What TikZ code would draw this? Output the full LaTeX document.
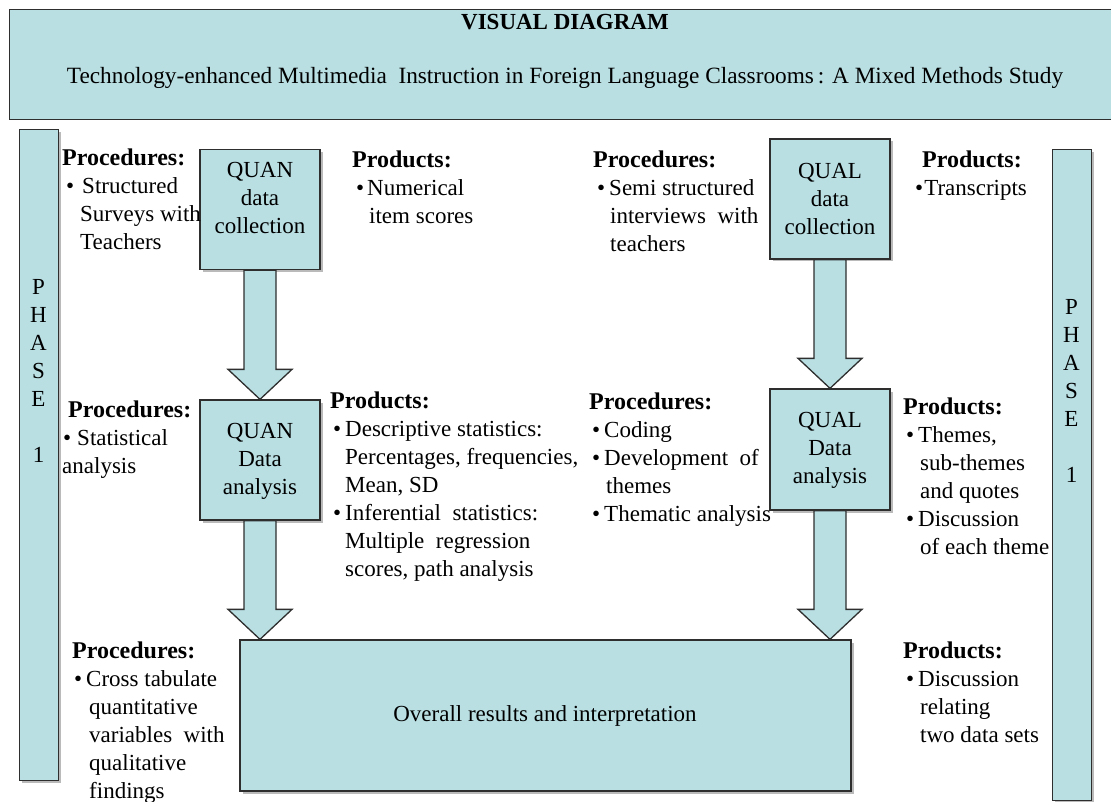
\documentclass[tikz,border=0pt]{standalone}
\usepackage{fontspec}
\setmainfont{Liberation Serif}
\usetikzlibrary{shadows,calc}
\definecolor{tealfill}{HTML}{B9DFE3}
\definecolor{edgecol}{HTML}{2E2E2E}
\newcommand\bu[2]{\hspace*{#1pt}\textbullet\hspace*{#2pt}}
\newcommand\ind{\hspace*{17pt}}
\newcommand\hd[1]{\strut{\bfseries\fontsize{24}{28}\selectfont #1}}
\begin{document}
\begin{tikzpicture}[x=1pt,y=-1pt,
  box/.style={draw=edgecol, line width=1.3pt, fill=tealfill, inner sep=0pt,
    drop shadow={shadow xshift=2.5pt, shadow yshift=-2.5pt, fill=black!45, opacity=0.6}},
  arr/.style={draw=edgecol, line width=1.3pt, fill=tealfill},
  txt/.style={anchor=north west, align=left, inner sep=0pt, font=\fontsize{23}{28}\selectfont},
  ctxt/.style={align=center, inner sep=0pt, font=\fontsize{23}{28}\selectfont}]
\useasboundingbox (0,0) rectangle (1111,802);

% title
\node[draw=edgecol, line width=1.3pt, fill=tealfill, anchor=north west,
  minimum width=1120pt, minimum height=110pt, inner sep=0pt] (title) at (9,9) {};
\node[inner sep=0pt, font=\bfseries\fontsize{23}{28}\selectfont] (tmain) at (565,22) {VISUAL DIAGRAM};
\node[ctxt, font=\fontsize{23.3}{28}\selectfont] (tsub) at (565,78) {Technology-enhanced Multimedia\ \ Instruction in Foreign Language Classrooms\,: A Mixed Methods Study};

% phase bars
\node[box, anchor=north west, minimum width=39pt, minimum height=651pt] (ph1) at (19,129) {};
\node[ctxt] (ph1t) at (38.5,370.5) {P\\H\\A\\S\\E\\[28pt]1};
\node[box, anchor=north west, minimum width=39pt, minimum height=651pt] (ph2) at (1052,149) {};
\node[ctxt] (ph2t) at (1071.5,390.5) {P\\H\\A\\S\\E\\[28pt]1};

% process boxes
\node[box, minimum width=120pt, minimum height=120pt] (qc) at (260,209.5) {};
\node[ctxt] (qct) at (260,198) {QUAN\\data\\collection};
\node[box, minimum width=120pt, minimum height=120pt] (qa) at (260,460) {};
\node[ctxt] (qat) at (260,461) {QUAN\\Data\\analysis};
\node[box, minimum width=120pt, minimum height=120pt] (lc) at (830,199) {};
\node[ctxt] (lct) at (830,198.5) {QUAL\\data\\collection};
\node[box, minimum width=120pt, minimum height=121pt] (la) at (830,449.5) {};
\node[ctxt] (lat) at (830,450) {QUAL\\Data\\analysis};
\node[box, minimum width=611pt, minimum height=151pt] (big) at (545.5,715.5) {};
\node[ctxt] (bigt) at (545,716) {Overall results and interpretation};

% block arrows
\foreach \a/\b in {qc/qa, qa/big, lc/la, la/big}{
  \path[arr] let \p1=(\a.south), \p2=(\a.center), \p3=(\b.north) in
    (\x2-16pt,\y1) -- (\x2+16pt,\y1) -- (\x2+16pt,\y3+30pt) -- (\x2+32pt,\y3+30pt)
    -- (\x2,\y3) -- (\x2-32pt,\y3+30pt) -- (\x2-16pt,\y3+30pt) -- cycle;
}

% text blocks
\node[txt] (b1) at (62,145.5) {\hd{Procedures:}\\\bu{4}{8}Structured\\\hspace*{18pt}Surveys with\\\hspace*{18pt}Teachers};
\node[txt] (b2) at (352,147.4) {\hd{Products:}\\\bu{4}{3}Numerical\\\ind item scores};
\node[txt] (b3) at (593,147.4) {\hd{Procedures:}\\\bu{4}{4}Semi structured\\\ind interviews\ \ with\\\ind teachers};
\node[txt] (b4) at (922,147.4) {\hd{Products:}\\\bu{-7}{1}Transcripts};
\node[txt] (b5) at (68,397.4) {\hd{Procedures:}\\\bu{-5}{6}Statistical\\\hspace*{-6pt}analysis};
\node[txt] (b6) at (330,388.4) {\hd{Products:}\\\bu{3}{4}Descriptive statistics:\\\hspace*{15pt}Percentages, frequencies,\\\hspace*{15pt}Mean, SD\\\bu{3}{4}Inferential\ \ statistics:\\\hspace*{15pt}Multiple\ \ regression\\\hspace*{15pt}scores, path analysis};
\node[txt] (b7) at (589,389.4) {\hd{Procedures:}\\\bu{3}{4}Coding\\\bu{3}{4}Development\ \ of\\\ind themes\\\bu{3}{4}Thematic analysis};
\node[txt] (b8) at (903,394.4) {\hd{Products:}\\\bu{3}{4}Themes,\\\ind sub-themes\\\ind and quotes\\\bu{3}{4}Discussion\\\ind of each theme};
\node[txt] (b9) at (72,638.4) {\hd{Procedures:}\\\bu{2}{4}Cross tabulate\\\ind quantitative\\\ind variables\ \ with\\\ind qualitative\\\ind findings};
\node[txt] (b10) at (903,638.4) {\hd{Products:}\\\bu{3}{4}Discussion\\\ind relating\\\ind two data sets};
\end{tikzpicture}
\end{document}
